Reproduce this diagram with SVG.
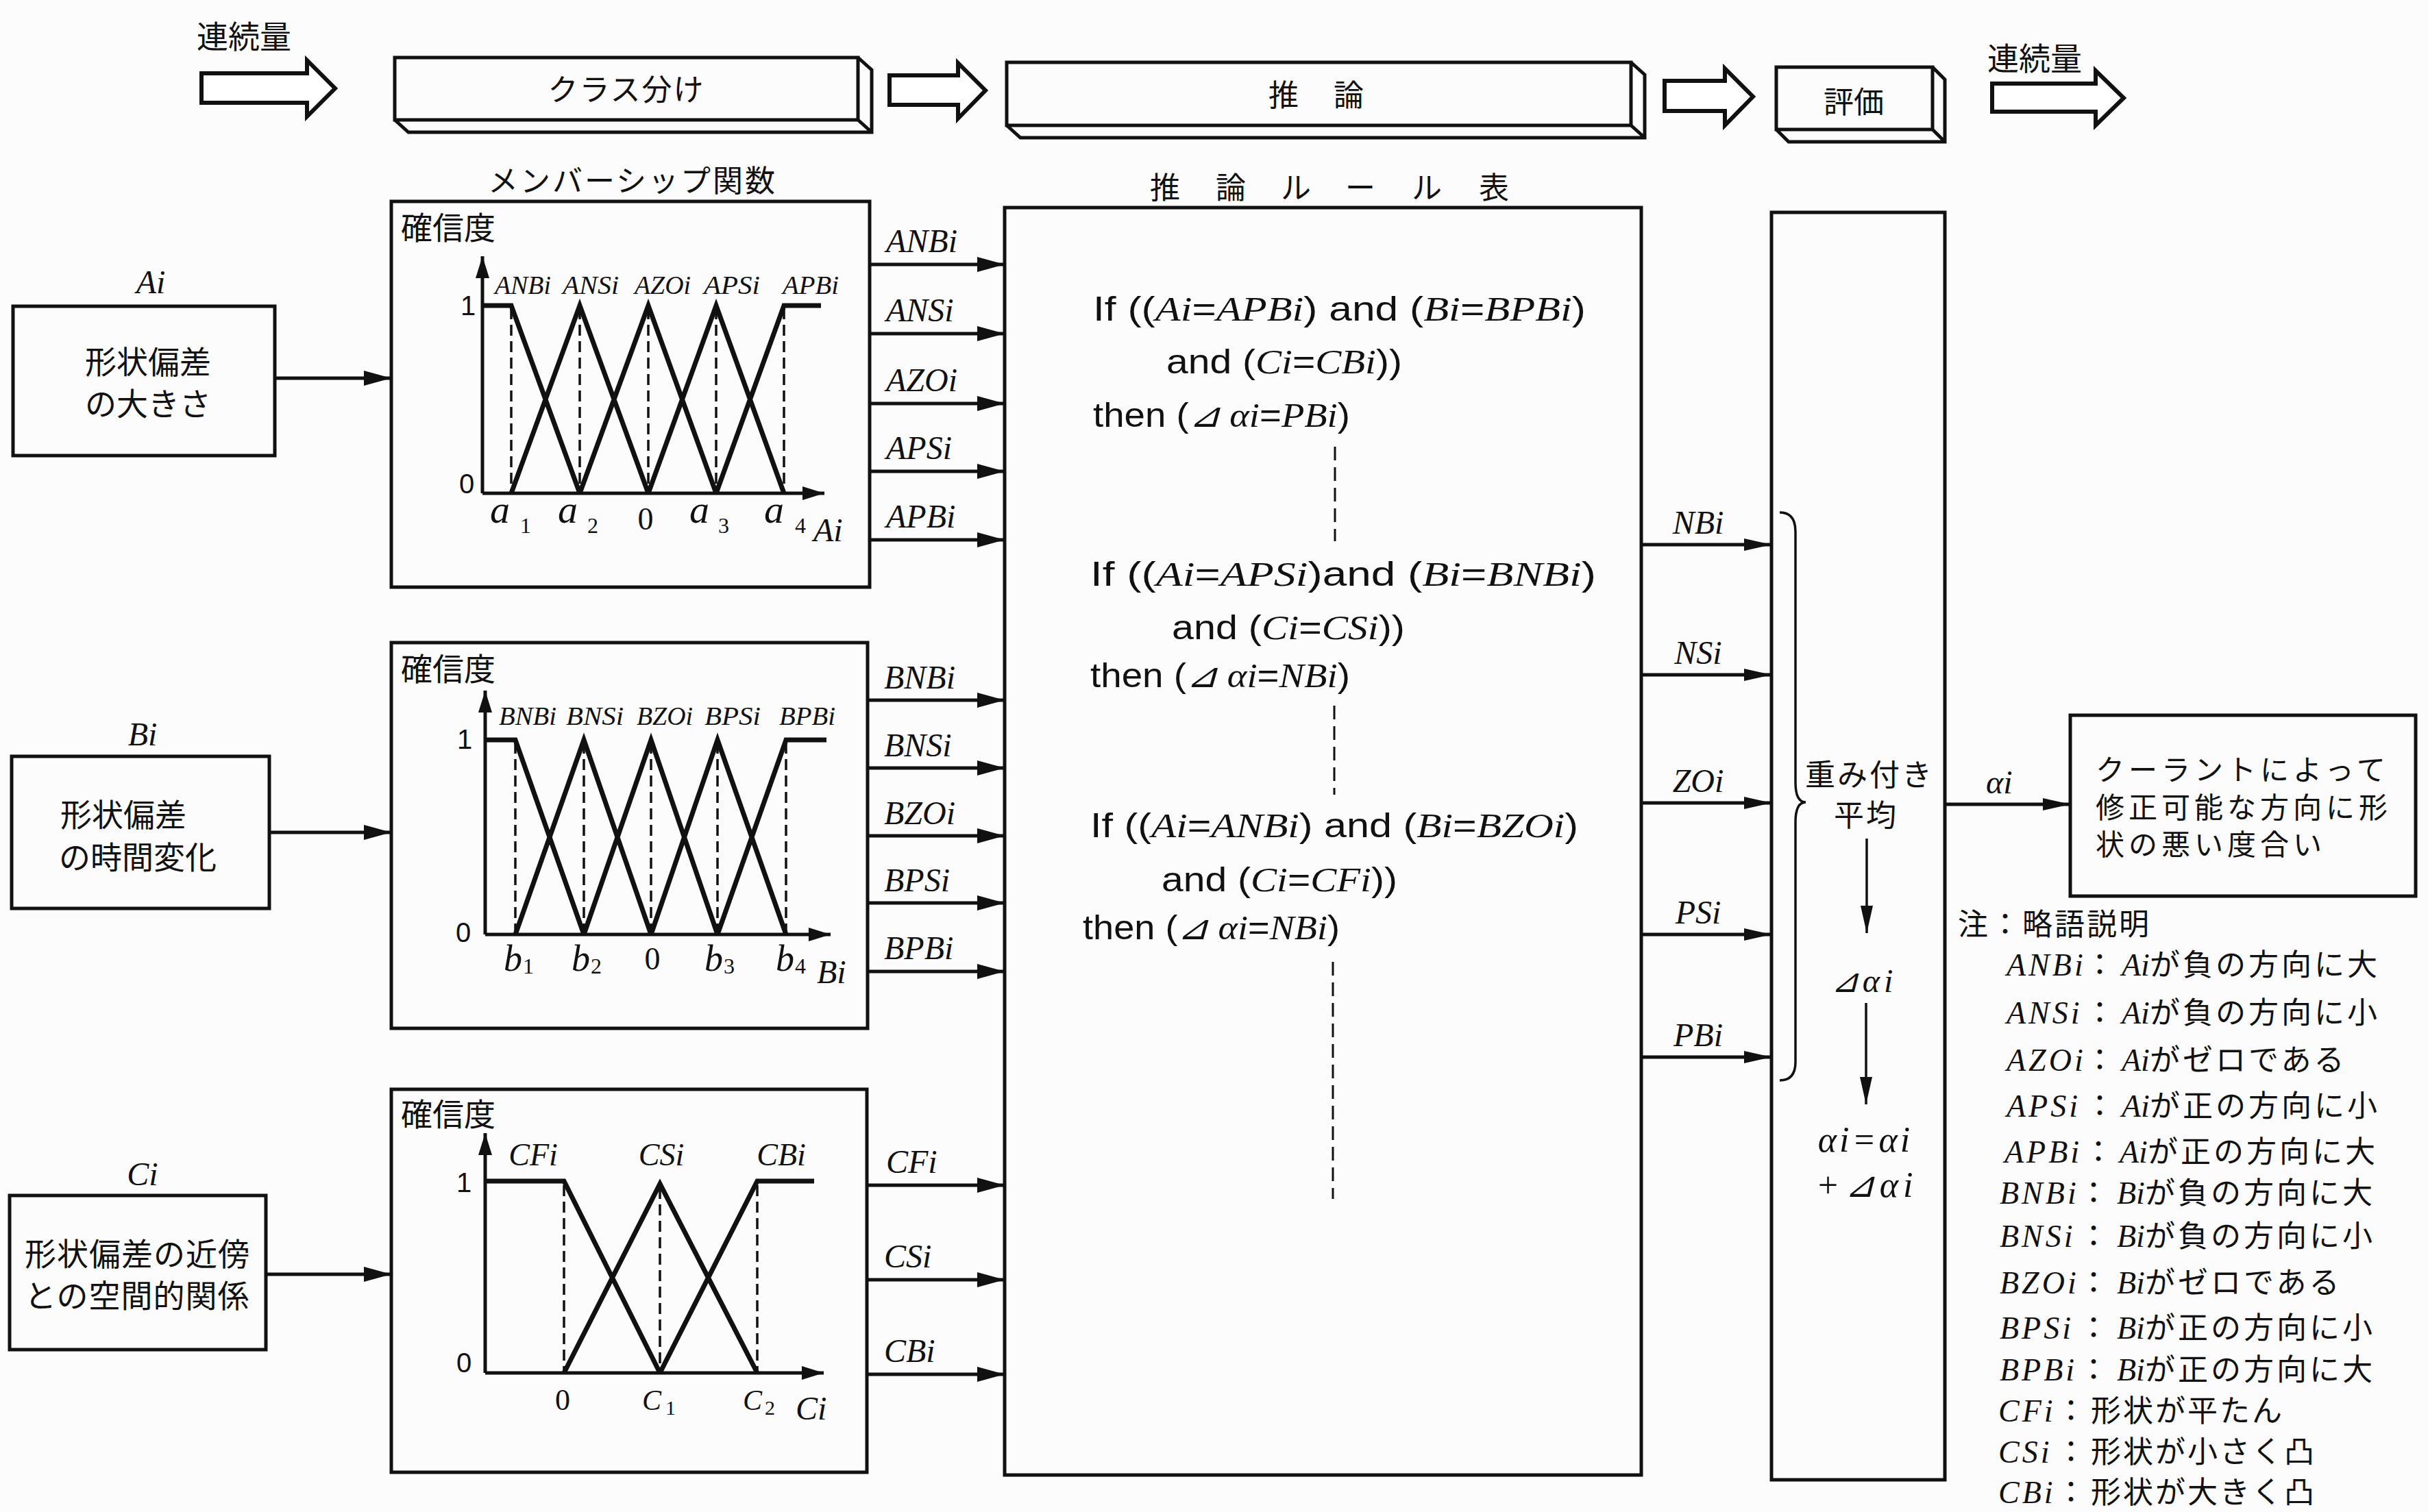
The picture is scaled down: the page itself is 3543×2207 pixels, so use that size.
<svg xmlns="http://www.w3.org/2000/svg" width="3543" height="2207" viewBox="0 0 3543 2207">
<defs>
<style>
.ln{fill:none;stroke:#111;stroke-width:5}
.thin{fill:none;stroke:#111;stroke-width:3.5}
.box{fill:none;stroke:#111;stroke-width:5}
.blk{fill:#fff;stroke:#111;stroke-width:6;stroke-linejoin:miter}
.mf{fill:none;stroke:#111;stroke-width:7;stroke-linejoin:miter}
.dash{fill:none;stroke:#111;stroke-width:3.5;stroke-dasharray:16 8}
.rdash{fill:none;stroke:#111;stroke-width:3;stroke-dasharray:20 10}
.jp{font-family:"Noto Sans CJK JP","Noto Sans",sans-serif;fill:#111}
.it{font-family:"Liberation Serif","DejaVu Serif",serif;font-style:italic;fill:#111}
.rm{font-family:"Liberation Serif","DejaVu Serif",serif;fill:#111}
.sn{font-family:"Liberation Sans",Arial,sans-serif;fill:#111}
.r{font-family:"Liberation Sans",Arial,sans-serif;font-size:50px;fill:#111}
.v{font-family:"Liberation Serif",serif;font-style:italic}
.t44{font-size:44px}
.t46{font-size:46px}
.lab{font-size:48px}
.sm{font-size:38px}
</style>
<marker id="ah" markerUnits="userSpaceOnUse" markerWidth="40" markerHeight="22" refX="40" refY="11" orient="auto"><path d="M0,0 L40,11 L0,22 z" fill="#111"/></marker>
<marker id="ahs" markerUnits="userSpaceOnUse" markerWidth="40" markerHeight="18" refX="40" refY="9" orient="auto"><path d="M0,0 L40,9 L0,18 z" fill="#111"/></marker>
<marker id="ax" markerUnits="userSpaceOnUse" markerWidth="32" markerHeight="20" refX="32" refY="10" orient="auto"><path d="M0,0 L32,10 L0,20 z" fill="#111"/></marker>
</defs>
<rect width="3543" height="2207" fill="#fcfcfc"/>

<!-- top process row -->
<g id="top-in">
<text class="jp t46" x="287" y="70">連続量</text>
<path class="blk" d="M294,107 H448 V88 L489,129 L448,170 V150 H294 Z"/>
</g>
<g id="stage-class">
<path class="box" d="M576,84 H1252 V175 H576 Z M576,175 L596,193 H1272 V102 L1252,84 M1252,175 L1272,193"/>
<text class="jp t44" x="914" y="147" text-anchor="middle" letter-spacing="2">クラス分け</text>
</g>
<path class="blk" d="M1298,110 H1398 V92 L1438,132 L1398,173 V153 H1298 Z"/>
<g id="stage-infer">
<path class="box" d="M1469,91 H2380 V183 H1469 Z M1469,183 L1489,201 H2400 V109 L2380,91 M2380,183 L2400,201"/>
<text class="jp t44" x="1873" y="155" text-anchor="middle">推</text>
<text class="jp t44" x="1968" y="155" text-anchor="middle">論</text>
</g>
<path class="blk" d="M2429,118 H2517 V100 L2558,141 L2517,183 V162 H2429 Z"/>
<g id="stage-eval">
<path class="box" d="M2592,98 H2820 V189 H2592 Z M2592,189 L2610,207 H2838 V116 L2820,98 M2820,189 L2838,207"/>
<text class="jp t44" x="2705" y="165" text-anchor="middle">評価</text>
</g>
<g id="top-out">
<text class="jp t46" x="2900" y="102">連続量</text>
<path class="blk" d="M2907,122 H3058 V103 L3099,143 L3058,183 V163 H2907 Z"/>
</g>

<!-- section headers -->
<text class="jp t44" x="923" y="280" text-anchor="middle" letter-spacing="3">メンバーシップ関数</text>
<g class="jp t44" text-anchor="middle">
<text x="1700" y="290">推</text><text x="1796" y="290">論</text><text x="1891" y="290">ル</text><text x="1985" y="290">ー</text><text x="2082" y="290">ル</text><text x="2180" y="290">表</text>
</g>

<!-- input boxes -->
<g id="in-A">
<text class="it lab" x="220" y="428" text-anchor="middle">Ai</text>
<rect class="box" x="19" y="447" width="382" height="218"/>
<text class="jp t46" x="124" y="545">形状偏差</text>
<text class="jp t46" x="124" y="606">の大きさ</text>
</g>
<g id="in-B">
<text class="it lab" x="208" y="1088" text-anchor="middle">Bi</text>
<rect class="box" x="17" y="1104" width="376" height="222"/>
<text class="jp t46" x="88" y="1206">形状偏差</text>
<text class="jp t46" x="86" y="1268">の時間変化</text>
</g>
<g id="in-C">
<text class="it lab" x="208" y="1730" text-anchor="middle">Ci</text>
<rect class="box" x="14" y="1745" width="374" height="225"/>
<text class="jp t46" x="36" y="1847" letter-spacing="1">形状偏差の近傍</text>
<text class="jp t46" x="36" y="1908" letter-spacing="1">との空間的関係</text>
</g>

<!-- membership chart A -->
<g id="mf-A">
<rect class="box" x="571" y="294" width="698" height="563"/>
<text class="jp t46" x="585" y="349">確信度</text>
<line class="ln" x1="704" y1="720" x2="704" y2="374" marker-end="url(#ax)"/>
<line class="ln" x1="704" y1="720" x2="1203" y2="720" marker-end="url(#ax)"/>
<text class="sn" font-size="40" x="683" y="460" text-anchor="middle">1</text>
<text class="sn" font-size="40" x="681" y="720" text-anchor="middle">0</text>
<path class="dash" d="M746,450 V717 M846,450 V717 M946,450 V717 M1045,450 V717 M1144,450 V717"/>
<path class="mf" d="M704,446 H746 L846,720 M746,720 L846,446 L946,720 M846,720 L946,446 L1045,720 M946,720 L1045,446 L1144,720 M1045,720 L1144,446 H1198"/>
<g class="it sm" text-anchor="middle">
<text x="763" y="429" textLength="82" lengthAdjust="spacingAndGlyphs">ANBi</text><text x="862" y="429" textLength="82" lengthAdjust="spacingAndGlyphs">ANSi</text><text x="967" y="429" textLength="82" lengthAdjust="spacingAndGlyphs">AZOi</text><text x="1068" y="429" textLength="82" lengthAdjust="spacingAndGlyphs">APSi</text><text x="1183" y="429" textLength="82" lengthAdjust="spacingAndGlyphs">APBi</text>
</g>
<g class="it" font-size="58">
<text x="715" y="763">a</text><text x="814" y="763">a</text><text x="1006" y="763">a</text><text x="1115" y="763">a</text>
</g>
<g class="rm" font-size="32">
<text x="759" y="778">1</text><text x="857" y="778">2</text><text x="1048" y="778">3</text><text x="1160" y="778">4</text>
</g>
<text class="rm" font-size="46" x="942" y="773" text-anchor="middle">0</text>
<text class="it lab" x="1187" y="790">Ai</text>
</g>

<!-- membership chart B -->
<g id="mf-B">
<rect class="box" x="571" y="938" width="695" height="563"/>
<text class="jp t46" x="585" y="993">確信度</text>
<line class="ln" x1="708" y1="1364" x2="708" y2="1008" marker-end="url(#ax)"/>
<line class="ln" x1="708" y1="1364" x2="1212" y2="1364" marker-end="url(#ax)"/>
<text class="sn" font-size="40" x="678" y="1093" text-anchor="middle">1</text>
<text class="sn" font-size="40" x="676" y="1375" text-anchor="middle">0</text>
<path class="dash" d="M752,1084 V1361 M852,1084 V1361 M950,1084 V1361 M1047,1084 V1361 M1147,1084 V1361"/>
<path class="mf" d="M708,1080 H752 L852,1364 M752,1364 L852,1080 L950,1364 M852,1364 L950,1080 L1047,1364 M950,1364 L1047,1080 L1147,1364 M1047,1364 L1147,1080 H1206"/>
<g class="it sm" text-anchor="middle">
<text x="770" y="1058" textLength="84" lengthAdjust="spacingAndGlyphs">BNBi</text><text x="868" y="1058" textLength="84" lengthAdjust="spacingAndGlyphs">BNSi</text><text x="970" y="1058" textLength="82" lengthAdjust="spacingAndGlyphs">BZOi</text><text x="1069" y="1058" textLength="82" lengthAdjust="spacingAndGlyphs">BPSi</text><text x="1178" y="1058" textLength="82" lengthAdjust="spacingAndGlyphs">BPBi</text>
</g>
<g class="it" font-size="54">
<text x="735" y="1417">b</text><text x="834" y="1417">b</text><text x="1028" y="1417">b</text><text x="1132" y="1417">b</text>
</g>
<g class="rm" font-size="32">
<text x="763" y="1421">1</text><text x="862" y="1421">2</text><text x="1056" y="1421">3</text><text x="1160" y="1421">4</text>
</g>
<text class="rm" font-size="46" x="952" y="1415" text-anchor="middle">0</text>
<text class="it lab" x="1192" y="1435">Bi</text>
</g>

<!-- membership chart C -->
<g id="mf-C">
<rect class="box" x="571" y="1590" width="694" height="559"/>
<text class="jp t46" x="585" y="1643">確信度</text>
<line class="ln" x1="708" y1="2004" x2="708" y2="1654" marker-end="url(#ax)"/>
<line class="ln" x1="708" y1="2004" x2="1202" y2="2004" marker-end="url(#ax)"/>
<text class="sn" font-size="40" x="677" y="1740" text-anchor="middle">1</text>
<text class="sn" font-size="40" x="677" y="2003" text-anchor="middle">0</text>
<path class="dash" d="M823,1730 V2001 M963,1734 V2001 M1105,1730 V2001"/>
<path class="mf" d="M708,1724 H823 L963,2004 M823,2004 L963,1728 L1105,2004 M963,2004 L1105,1724 H1188"/>
<g class="it" font-size="46" text-anchor="middle">
<text x="778" y="1701">CFi</text><text x="965" y="1701">CSi</text><text x="1140" y="1701">CBi</text>
</g>
<text class="rm" font-size="44" x="821" y="2058" text-anchor="middle">0</text>
<g class="it" font-size="42"><text x="937" y="2058">C</text><text x="1084" y="2058">C</text></g>
<g class="rm" font-size="30"><text x="971" y="2065">1</text><text x="1116" y="2065">2</text></g>
<text class="it lab" x="1161" y="2072">Ci</text>
</g>

<!-- inference rule table -->
<g id="rules">
<rect class="box" x="1466" y="303" width="929" height="1850"/>
<text class="r" x="1595" y="468" textLength="719" lengthAdjust="spacingAndGlyphs">If ((<tspan class="v">Ai</tspan>=<tspan class="v">APBi</tspan>) and (<tspan class="v">Bi</tspan>=<tspan class="v">BPBi</tspan>)</text>
<text class="r" x="1702" y="545" textLength="344" lengthAdjust="spacingAndGlyphs">and (<tspan class="v">Ci</tspan>=<tspan class="v">CBi</tspan>))</text>
<text class="r" x="1595" y="623" textLength="375" lengthAdjust="spacingAndGlyphs">then (<tspan class="v">⊿ αi</tspan>=<tspan class="v">PBi</tspan>)</text>
<line class="rdash" x1="1948" y1="652" x2="1948" y2="790"/>
<text class="r" x="1591" y="855" textLength="738" lengthAdjust="spacingAndGlyphs">If ((<tspan class="v">Ai</tspan>=<tspan class="v">APSi</tspan>)and (<tspan class="v">Bi</tspan>=<tspan class="v">BNBi</tspan>)</text>
<text class="r" x="1710" y="933" textLength="340" lengthAdjust="spacingAndGlyphs">and (<tspan class="v">Ci</tspan>=<tspan class="v">CSi</tspan>))</text>
<text class="r" x="1591" y="1003" textLength="379" lengthAdjust="spacingAndGlyphs">then (<tspan class="v">⊿ αi</tspan>=<tspan class="v">NBi</tspan>)</text>
<line class="rdash" x1="1947" y1="1030" x2="1947" y2="1160"/>
<text class="r" x="1591" y="1222" textLength="712" lengthAdjust="spacingAndGlyphs">If ((<tspan class="v">Ai</tspan>=<tspan class="v">ANBi</tspan>) and (<tspan class="v">Bi</tspan>=<tspan class="v">BZOi</tspan>)</text>
<text class="r" x="1695" y="1301" textLength="344" lengthAdjust="spacingAndGlyphs">and (<tspan class="v">Ci</tspan>=<tspan class="v">CFi</tspan>))</text>
<text class="r" x="1580" y="1371" textLength="375" lengthAdjust="spacingAndGlyphs">then (<tspan class="v">⊿ αi</tspan>=<tspan class="v">NBi</tspan>)</text>
<line class="rdash" x1="1945" y1="1404" x2="1945" y2="1750"/>
</g>

<!-- evaluation column -->
<g id="eval">
<rect class="box" x="2585" y="310" width="253" height="1850"/>
<path class="thin" d="M2597,748 Q2620,748 2620,776 L2620,1142 Q2620,1171 2635,1171 Q2620,1171 2620,1200 L2620,1550 Q2620,1577 2597,1577"/>
<text class="jp" font-size="44" x="2728" y="1147" text-anchor="middle" letter-spacing="3">重み付き</text>
<text class="jp" font-size="44" x="2723" y="1206" text-anchor="middle" letter-spacing="3">平均</text>
<line class="thin" x1="2724" y1="1224" x2="2724" y2="1362" marker-end="url(#ahs)"/>
<text class="it lab" x="2720" y="1448" text-anchor="middle" letter-spacing="6">⊿αi</text>
<line class="thin" x1="2723" y1="1464" x2="2723" y2="1612" marker-end="url(#ahs)"/>
<text class="it" font-size="52" x="2722" y="1681" text-anchor="middle" letter-spacing="4">αi=αi</text>
<text class="it" font-size="52" x="2724" y="1747" text-anchor="middle" letter-spacing="7">+⊿αi</text>
</g>

<!-- result box -->
<g id="result">
<rect class="box" x="3021" y="1044" width="504" height="264"/>
<text class="jp" font-size="42" x="3058" y="1139" letter-spacing="6">クーラントによって</text>
<text class="jp" font-size="42" x="3058" y="1194" letter-spacing="6">修正可能な方向に形</text>
<text class="jp" font-size="42" x="3058" y="1248" letter-spacing="6">状の悪い度合い</text>
</g>

<!-- notes -->
<g id="notes">
<text class="jp t44" x="2857" y="1365" letter-spacing="3">注：略語説明</text>
<g class="t46">
<text x="2928" y="1424"><tspan class="it" letter-spacing="4">ANBi</tspan><tspan class="jp t44" x="3042">：</tspan><tspan class="it" x="3096">Ai</tspan><tspan class="jp t44" letter-spacing="4">が負の方向に大</tspan></text>
<text x="2928" y="1494"><tspan class="it" letter-spacing="4">ANSi</tspan><tspan class="jp t44" x="3042">：</tspan><tspan class="it" x="3096">Ai</tspan><tspan class="jp t44" letter-spacing="4">が負の方向に小</tspan></text>
<text x="2928" y="1563"><tspan class="it" letter-spacing="4">AZOi</tspan><tspan class="jp t44" x="3042">：</tspan><tspan class="it" x="3096">Ai</tspan><tspan class="jp t44" letter-spacing="4">がゼロである</tspan></text>
<text x="2928" y="1630"><tspan class="it" letter-spacing="4">APSi</tspan><tspan class="jp t44" x="3042">：</tspan><tspan class="it" x="3096">Ai</tspan><tspan class="jp t44" letter-spacing="4">が正の方向に小</tspan></text>
<text x="2925" y="1697"><tspan class="it" letter-spacing="4">APBi</tspan><tspan class="jp t44" x="3040">：</tspan><tspan class="it" x="3093">Ai</tspan><tspan class="jp t44" letter-spacing="4">が正の方向に大</tspan></text>
<text x="2918" y="1757"><tspan class="it" letter-spacing="4">BNBi</tspan><tspan class="jp t44" x="3033">：</tspan><tspan class="it" x="3089">Bi</tspan><tspan class="jp t44" letter-spacing="4">が負の方向に大</tspan></text>
<text x="2918" y="1820"><tspan class="it" letter-spacing="4">BNSi</tspan><tspan class="jp t44" x="3033">：</tspan><tspan class="it" x="3089">Bi</tspan><tspan class="jp t44" letter-spacing="4">が負の方向に小</tspan></text>
<text x="2918" y="1888"><tspan class="it" letter-spacing="4">BZOi</tspan><tspan class="jp t44" x="3033">：</tspan><tspan class="it" x="3089">Bi</tspan><tspan class="jp t44" letter-spacing="4">がゼロである</tspan></text>
<text x="2918" y="1954"><tspan class="it" letter-spacing="4">BPSi</tspan><tspan class="jp t44" x="3033">：</tspan><tspan class="it" x="3089">Bi</tspan><tspan class="jp t44" letter-spacing="4">が正の方向に小</tspan></text>
<text x="2918" y="2015"><tspan class="it" letter-spacing="4">BPBi</tspan><tspan class="jp t44" x="3033">：</tspan><tspan class="it" x="3089">Bi</tspan><tspan class="jp t44" letter-spacing="4">が正の方向に大</tspan></text>
<text x="2916" y="2075"><tspan class="it" letter-spacing="4">CFi</tspan><tspan class="jp t44" x="3000">：</tspan><tspan class="jp t44" x="3051" letter-spacing="3">形状が平たん</tspan></text>
<text x="2916" y="2135"><tspan class="it" letter-spacing="4">CSi</tspan><tspan class="jp t44" x="3000">：</tspan><tspan class="jp t44" x="3051" letter-spacing="3">形状が小さく凸</tspan></text>
<text x="2916" y="2194"><tspan class="it" letter-spacing="4">CBi</tspan><tspan class="jp t44" x="3000">：</tspan><tspan class="jp t44" x="3051" letter-spacing="3">形状が大きく凸</tspan></text>
</g>
</g>

<!-- connectors -->
<g id="connectors">
<g class="ln">
<line x1="401" y1="552" x2="571" y2="552" marker-end="url(#ah)"/>
<line x1="393" y1="1215" x2="571" y2="1215" marker-end="url(#ah)"/>
<line x1="388" y1="1860" x2="571" y2="1860" marker-end="url(#ah)"/>
<line x1="1269" y1="386" x2="1466" y2="386" marker-end="url(#ah)"/>
<line x1="1269" y1="487" x2="1466" y2="487" marker-end="url(#ah)"/>
<line x1="1269" y1="589" x2="1466" y2="589" marker-end="url(#ah)"/>
<line x1="1269" y1="688" x2="1466" y2="688" marker-end="url(#ah)"/>
<line x1="1269" y1="788" x2="1466" y2="788" marker-end="url(#ah)"/>
<line x1="1266" y1="1022" x2="1466" y2="1022" marker-end="url(#ah)"/>
<line x1="1266" y1="1121" x2="1466" y2="1121" marker-end="url(#ah)"/>
<line x1="1266" y1="1220" x2="1466" y2="1220" marker-end="url(#ah)"/>
<line x1="1266" y1="1318" x2="1466" y2="1318" marker-end="url(#ah)"/>
<line x1="1266" y1="1418" x2="1466" y2="1418" marker-end="url(#ah)"/>
<line x1="1265" y1="1730" x2="1466" y2="1730" marker-end="url(#ah)"/>
<line x1="1265" y1="1868" x2="1466" y2="1868" marker-end="url(#ah)"/>
<line x1="1265" y1="2006" x2="1466" y2="2006" marker-end="url(#ah)"/>
</g>
<g class="ln" stroke-width="4.5">
<line x1="2395" y1="795" x2="2585" y2="795" marker-end="url(#ahs)"/>
<line x1="2395" y1="985" x2="2585" y2="985" marker-end="url(#ahs)"/>
<line x1="2395" y1="1172" x2="2585" y2="1172" marker-end="url(#ahs)"/>
<line x1="2395" y1="1364" x2="2585" y2="1364" marker-end="url(#ahs)"/>
<line x1="2395" y1="1543" x2="2585" y2="1543" marker-end="url(#ahs)"/>
<line x1="2838" y1="1174" x2="3021" y2="1174" marker-end="url(#ahs)"/>
</g>
<g class="it lab">
<text x="1293" y="368">ANBi</text><text x="1293" y="469">ANSi</text><text x="1293" y="571">AZOi</text><text x="1293" y="670">APSi</text><text x="1293" y="770">APBi</text>
<text x="1290" y="1005">BNBi</text><text x="1290" y="1104">BNSi</text><text x="1290" y="1203">BZOi</text><text x="1290" y="1301">BPSi</text><text x="1290" y="1400">BPBi</text>
<text x="1293" y="1712">CFi</text><text x="1290" y="1850">CSi</text><text x="1290" y="1988">CBi</text>
</g>
<g class="it lab" text-anchor="middle">
<text x="2478" y="779">NBi</text><text x="2478" y="969">NSi</text><text x="2478" y="1156">ZOi</text><text x="2478" y="1348">PSi</text><text x="2478" y="1527">PBi</text>
</g>
<text class="it lab" x="2898" y="1158">αi</text>
</g>
</svg>
